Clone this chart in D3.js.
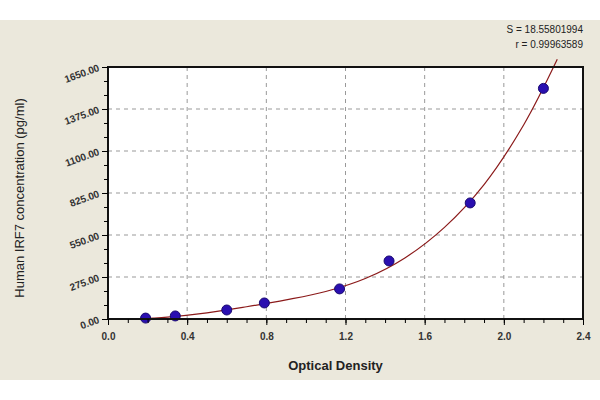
<!DOCTYPE html><html><head><script src="https://cdn.jsdelivr.net/npm/d3@7"></script>
<style>body{margin:0;background:#fff}text{font-family:Arial,"Liberation Sans",sans-serif}</style></head><body><svg id="c" width="600" height="400"></svg><script>
const od=[0.19,0.34,0.60,0.79,1.17,1.42,1.83,2.20];
const conc=[6,20,59,105,197,380,760,1510];
const curveX=[0.15,0.3,0.5,0.7,0.9,1.1,1.3,1.5,1.7,1.9,2.1,2.27];
const curveY=[0,12,40,80,125,180,265,400,600,880,1270,1700];
const xTicks=[0,0.4,0.8,1.2,1.6,2.0,2.4];
const yTicks=[0,275,550,825,1100,1375,1650];
const svg=d3.select("#c");
svg.append("rect").attr("x",0).attr("y",20).attr("width",600).attr("height",360).attr("fill","#ebe8dc");
const L=108,R=583,T=67,B=319;
const x=d3.scaleLinear().domain([0,2.4]).range([L,R]);
const y=d3.scaleLinear().domain([0,1650]).range([B,T]);
svg.append("rect").attr("x",L).attr("y",T).attr("width",R-L).attr("height",B-T).attr("fill","#fff");
const g=svg.append("g");
g.selectAll(".gx").data(xTicks.slice(1,-1)).join("line").attr("x1",d=>x(d)).attr("x2",d=>x(d)).attr("y1",T).attr("y2",B).attr("stroke","#999").attr("stroke-dasharray","4,4");
g.selectAll(".gy").data(yTicks.slice(1,-1)).join("line").attr("y1",d=>y(d)).attr("y2",d=>y(d)).attr("x1",L).attr("x2",R).attr("stroke","#999").attr("stroke-dasharray","4,4");
const line=d3.line().x(d=>x(d[0])).y(d=>y(d[1])).curve(d3.curveCatmullRom.alpha(0.5));
svg.append("path").datum(curveX.map((v,i)=>[v,curveY[i]])).attr("d",line).attr("fill","none").attr("stroke","#8b1a1a").attr("stroke-width",1.2);
svg.selectAll("circle").data(od).join("circle").attr("cx",d=>x(d)).attr("cy",(d,i)=>y(conc[i])).attr("r",5).attr("fill","#2a0fb0").attr("stroke","#1a0a70");
svg.append("rect").attr("x",L).attr("y",T).attr("width",R-L).attr("height",B-T).attr("fill","none").attr("stroke","#111").attr("stroke-width",2);
const xa=svg.append("g").attr("transform",`translate(0,${B})`).call(d3.axisBottom(x).tickValues(d3.range(0,2.41,0.1)).tickSize(4).tickFormat(""));
xa.select(".domain").remove();
svg.append("g").attr("transform",`translate(0,${B})`).call(d3.axisBottom(x).tickValues(xTicks).tickSize(6).tickFormat(d3.format(".1f"))).call(a=>{a.select(".domain").remove();a.selectAll("text").attr("dy","1.2em").attr("font-size",10).attr("font-weight","bold").attr("fill","#333")});
const ya=svg.append("g").attr("transform",`translate(${L},0)`).call(d3.axisLeft(y).tickValues(d3.range(0,1651,91.6667)).tickSize(4).tickFormat(""));
ya.select(".domain").remove();
svg.append("g").attr("transform",`translate(${L},0)`).call(d3.axisLeft(y).tickValues(yTicks).tickSize(6).tickFormat(d3.format(".2f"))).call(a=>{a.select(".domain").remove();a.selectAll("text").attr("font-size",10).attr("font-weight","bold").attr("fill","#333").attr("text-anchor","end").attr("transform","rotate(-20,-9,0)")});
svg.append("text").attr("x",(L+R)/2-10).attr("y",370).attr("text-anchor","middle").attr("font-size",13).attr("font-weight","bold").attr("fill","#222").text("Optical Density");
svg.append("text").attr("transform",`translate(24,${(T+B)/2+5}) rotate(-90)`).attr("text-anchor","middle").attr("font-size",13).attr("fill","#222").text("Human IRF7 concentration (pg/ml)");
svg.append("text").attr("x",583).attr("y",33).attr("text-anchor","end").attr("font-size",10).attr("fill","#222").text("S = 18.55801994");
svg.append("text").attr("x",583).attr("y",48).attr("text-anchor","end").attr("font-size",10).attr("fill","#222").text("r = 0.99963589");
</script></body></html>
